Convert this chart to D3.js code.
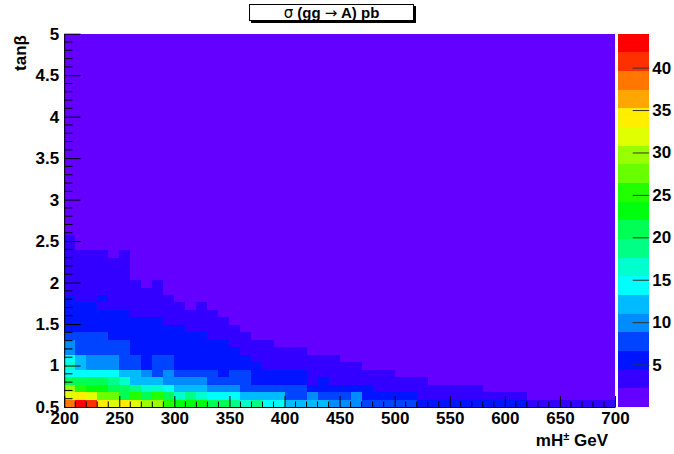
<!DOCTYPE html>
<html><head><meta charset="utf-8">
<script src="https://cdn.jsdelivr.net/npm/d3@7"></script>
<style>
body{margin:0;background:#fff}
svg{display:block}
text{font-family:"Liberation Sans",Arial,Helvetica,sans-serif;font-weight:bold;fill:#000}
</style>
</head><body><svg id="c" width="674" height="454"></svg>
<script>
// ---------------- data ----------------
const massBins = [200,210,220,230,240,250,260,270,280,290,300,310,320,330,340,350,360,370,380,390,
  400,410,420,430,440,450,460,470,480,490,500,510,520,530,540,550,560,570,580,590,
  600,610,620,630,640,650,660,670,680,690];
const massBinWidth = 10;
const tanbBins = [0.5,0.59,0.68,0.77,0.86,0.95,1.04,1.13,1.22,1.31,1.4,1.49,1.58,1.67,1.76,1.85,1.94,2.03,2.12,2.21,
  2.3,2.39,2.48,2.57,2.66,2.75,2.84,2.93,3.02,3.11,3.2,3.29,3.38,3.47,3.56,3.65,3.74,3.83,3.92,4.01,
  4.1,4.19,4.28,4.37,4.46,4.55,4.64,4.73,4.82,4.91];
const tanbBinWidth = 0.09;
const xTicks = [200,250,300,350,400,450,500,550,600,650,700];
const yTicks = [0.5,1,1.5,2,2.5,3,3.5,4,4.5,5];
const zTicks = [5,10,15,20,25,30,35,40];
const zRange = [0,44];
const nContours = 20;

// sigma(gg->A) in pb, one array per tan(beta) bin, 50 mass bins each
const sig_050 = [38.5,42.9,40.7,34.1,31.9,34.1,31.9,29.7,29.7,25.3, 23.1,23.1,23.1,20.9,20.9,18.7,16.5,18.7,14.3,14.3, 12.1,12.1,12.1,12.1,9.9,9.9,9.9,7.7,7.7,7.7, 7.7,7.7,5.5,5.5,5.5,5.5,5.5,5.5,5.5,5.5, 5.5,5.5,3.3,3.3,3.3,3.3,3.3,3.3,3.3,3.3];
const sig_059 = [31.9,34.1,31.9,27.5,27.5,20.9,25.3,20.9,25.3,20.9, 16.5,18.7,16.5,14.3,14.3,14.3,12.1,12.1,12.1,12.1, 7.7,7.7,9.9,7.7,7.7,7.7,9.9,5.5,5.5,5.5, 5.5,5.5,3.3,3.3,3.3,3.3,3.3,3.3,3.3,3.3, 3.3,3.3,1,1,1,1,1,1,1,1];
const sig_068 = [29.7,25.3,23.1,23.1,20.9,20.9,18.7,16.5,16.5,14.3, 12.1,12.1,12.1,9.9,9.9,9.9,7.7,7.7,7.7,7.7, 7.7,7.7,5.5,5.5,5.5,5.5,5.5,5.5,3.3,3.3, 3.3,3.3,3.3,3.3,3.3,3.3,3.3,3.3,1,1, 1,1,1,1,1,1,1,1,1,1];
const sig_077 = [20.9,20.9,20.9,20.9,18.7,16.5,12.1,12.1,12.1,9.9, 9.9,9.9,9.9,7.7,7.7,7.7,7.7,5.5,5.5,5.5, 5.5,5.5,3.3,5.5,3.3,3.3,3.3,3.3,3.3,3.3, 3.3,3.3,3.3,1,1,1,1,1,1,1, 1,1,1,1,1,1,1,1,1,1];
const sig_086 = [14.3,14.3,14.3,14.3,14.3,12.1,12.1,9.9,7.7,9.9, 7.7,7.7,7.7,7.7,5.5,7.7,7.7,5.5,5.5,5.5, 5.5,5.5,3.3,3.3,3.3,3.3,3.3,3.3,3.3,3.3, 1,1,1,1,1,1,1,1,1,1, 1,1,1,1,1,1,1,1,1,1];
const sig_095 = [16.5,12.1,9.9,9.9,9.9,7.7,7.7,5.5,7.7,7.7, 5.5,5.5,5.5,5.5,5.5,5.5,5.5,5.5,3.3,3.3, 3.3,3.3,3.3,3.3,3.3,3.3,3.3,1,1,1, 1,1,1,1,1,1,1,1,1,1, 1,1,1,1,1,1,1,1,1,1];
const sig_104 = [14.3,12.1,9.9,9.9,9.9,7.7,7.7,5.5,7.7,7.7, 5.5,5.5,5.5,5.5,5.5,5.5,5.5,3.3,3.3,3.3, 3.3,3.3,3.3,3.3,3.3,1,1,1,1,1, 1,1,1,1,1,1,1,1,1,1, 1,1,1,1,1,1,1,1,1,1];
const sig_113 = [9.9,7.7,7.7,7.7,7.7,7.7,5.5,5.5,5.5,5.5, 5.5,5.5,5.5,5.5,5.5,5.5,3.3,3.3,3.3,3.3, 3.3,3.3,1,1,1,1,1,1,1,1, 1,1,1,1,1,1,1,1,1,1, 1,1,1,1,1,1,1,1,1,1];
const sig_122 = [9.9,7.7,7.7,7.7,7.7,7.7,5.5,5.5,5.5,5.5, 5.5,5.5,5.5,5.5,5.5,3.3,3.3,3.3,3.3,1, 1,1,1,1,1,1,1,1,1,1, 1,1,1,1,1,1,1,1,1,1, 1,1,1,1,1,1,1,1,1,1];
const sig_131 = [7.7,7.7,7.7,7.7,5.5,5.5,5.5,5.5,5.5,5.5, 5.5,5.5,5.5,3.3,3.3,3.3,3.3,1,1,1, 1,1,1,1,1,1,1,1,1,1, 1,1,1,1,1,1,1,1,1,1, 1,1,1,1,1,1,1,1,1,1];
const sig_140 = [5.5,5.5,5.5,5.5,5.5,5.5,5.5,5.5,5.5,5.5, 5.5,3.3,3.3,3.3,3.3,3.3,1,1,1,1, 1,1,1,1,1,1,1,1,1,1, 1,1,1,1,1,1,1,1,1,1, 1,1,1,1,1,1,1,1,1,1];
const sig_149 = [5.5,5.5,5.5,5.5,5.5,5.5,5.5,5.5,5.5,3.3, 3.3,3.3,3.3,3.3,3.3,1,1,1,1,1, 1,1,1,1,1,1,1,1,1,1, 1,1,1,1,1,1,1,1,1,1, 1,1,1,1,1,1,1,1,1,1];
const sig_158 = [5.5,5.5,5.5,5.5,5.5,5.5,3.3,3.3,3.3,3.3, 3.3,3.3,3.3,3.3,1,1,1,1,1,1, 1,1,1,1,1,1,1,1,1,1, 1,1,1,1,1,1,1,1,1,1, 1,1,1,1,1,1,1,1,1,1];
const sig_167 = [5.5,5.5,5.5,3.3,3.3,3.3,3.3,3.3,3.3,3.3, 3.3,1,3.3,1,1,1,1,1,1,1, 1,1,1,1,1,1,1,1,1,1, 1,1,1,1,1,1,1,1,1,1, 1,1,1,1,1,1,1,1,1,1];
const sig_176 = [5.5,3.3,3.3,5.5,3.3,3.3,3.3,3.3,3.3,3.3, 1,1,1,1,1,1,1,1,1,1, 1,1,1,1,1,1,1,1,1,1, 1,1,1,1,1,1,1,1,1,1, 1,1,1,1,1,1,1,1,1,1];
const sig_185 = [3.3,3.3,3.3,3.3,3.3,3.3,3.3,3.3,3.3,1, 1,1,1,1,1,1,1,1,1,1, 1,1,1,1,1,1,1,1,1,1, 1,1,1,1,1,1,1,1,1,1, 1,1,1,1,1,1,1,1,1,1];
const sig_194 = [3.3,3.3,3.3,3.3,3.3,3.3,3.3,1,3.3,1, 1,1,1,1,1,1,1,1,1,1, 1,1,1,1,1,1,1,1,1,1, 1,1,1,1,1,1,1,1,1,1, 1,1,1,1,1,1,1,1,1,1];
const sig_203 = [3.3,3.3,3.3,3.3,3.3,3.3,1,1,1,1, 1,1,1,1,1,1,1,1,1,1, 1,1,1,1,1,1,1,1,1,1, 1,1,1,1,1,1,1,1,1,1, 1,1,1,1,1,1,1,1,1,1];
const sig_212 = [3.3,3.3,3.3,3.3,3.3,3.3,1,1,1,1, 1,1,1,1,1,1,1,1,1,1, 1,1,1,1,1,1,1,1,1,1, 1,1,1,1,1,1,1,1,1,1, 1,1,1,1,1,1,1,1,1,1];
const sig_221 = [3.3,3.3,3.3,3.3,3.3,3.3,1,1,1,1, 1,1,1,1,1,1,1,1,1,1, 1,1,1,1,1,1,1,1,1,1, 1,1,1,1,1,1,1,1,1,1, 1,1,1,1,1,1,1,1,1,1];
const sig_230 = [3.3,3.3,3.3,3.3,1,3.3,1,1,1,1, 1,1,1,1,1,1,1,1,1,1, 1,1,1,1,1,1,1,1,1,1, 1,1,1,1,1,1,1,1,1,1, 1,1,1,1,1,1,1,1,1,1];
const sig_239 = [3.3,1,1,1,1,1,1,1,1,1, 1,1,1,1,1,1,1,1,1,1, 1,1,1,1,1,1,1,1,1,1, 1,1,1,1,1,1,1,1,1,1, 1,1,1,1,1,1,1,1,1,1];
const sig_248 = [3.3,1,1,1,1,1,1,1,1,1, 1,1,1,1,1,1,1,1,1,1, 1,1,1,1,1,1,1,1,1,1, 1,1,1,1,1,1,1,1,1,1, 1,1,1,1,1,1,1,1,1,1];
// tan(beta) >= 2.57: uniform, lowest contour everywhere
const sig_high = [1,1,1,1,1,1,1,1,1,1, 1,1,1,1,1,1,1,1,1,1, 1,1,1,1,1,1,1,1,1,1, 1,1,1,1,1,1,1,1,1,1, 1,1,1,1,1,1,1,1,1,1];

const lowRows = [sig_050,sig_059,sig_068,sig_077,sig_086,sig_095,sig_104,sig_113,sig_122,sig_131,
  sig_140,sig_149,sig_158,sig_167,sig_176,sig_185,sig_194,sig_203,sig_212,sig_221,sig_230,sig_239,sig_248];
const rows = tanbBins.map((t,i)=> i < lowRows.length ? lowRows[i] : sig_high);

// ---------------- palette (ROOT pretty palette, 50 colours, 20 contours) ----------------
function paletteColor(j){
  if (j >= 49) return "rgb(255,0,0)";
  return d3.hsl(280 - (j+1)*5.6, 1, 0.5).formatRgb();
}
function levelColor(k){ return paletteColor(Math.floor((k+0.99)*50/nContours)); }
function zColor(v){
  let k = Math.floor((v - zRange[0])/(zRange[1]-zRange[0])*nContours);
  k = Math.max(0, Math.min(nContours-1, k));
  return levelColor(k);
}

// ---------------- layout ----------------
const svg = d3.select("#c");
const X0 = 64.2, X1 = 615, YB = 407, YT = 33.7;
const PX0 = 617.7, PX1 = 649.3;
const LABEL = "17px";
const x = d3.scaleLinear().domain([200,700]).range([X0,X1]);
const y = d3.scaleLinear().domain([0.5,5]).range([YB,YT]);
const zs = d3.scaleLinear().domain(zRange).range([YB,YT]);

// cells
const cells = [];
rows.forEach((row,i)=>row.forEach((v,j)=>cells.push({m:massBins[j], t:tanbBins[i], v})));
svg.append("g").attr("shape-rendering","crispEdges")
  .selectAll("rect").data(cells).join("rect")
  .attr("x", d=>Math.round(x(d.m)))
  .attr("width", d=>Math.round(x(d.m+massBinWidth))-Math.round(x(d.m)))
  .attr("y", d=>Math.round(y(d.t+tanbBinWidth)))
  .attr("height", d=>Math.round(y(d.t))-Math.round(y(d.t+tanbBinWidth)))
  .attr("fill", d=>zColor(d.v));

// x axis
const fmt = d=>String(d);
const gx = svg.append("g").attr("transform",`translate(0,${YB})`)
  .call(d3.axisBottom(x).tickValues(xTicks).tickSize(-11).tickSizeOuter(0).tickPadding(5).tickFormat(fmt));
const xMinor = massBins.concat([700]).filter(m=>xTicks.indexOf(m)<0);
gx.selectAll("line.minor").data(xMinor).join("line").attr("class","minor")
  .attr("x1",d=>x(d)).attr("x2",d=>x(d)).attr("y1",0).attr("y2",-5.5).attr("stroke","#000");

// y axis
const gy = svg.append("g").attr("transform",`translate(${X0},0)`)
  .call(d3.axisLeft(y).tickValues(yTicks).tickSize(-16.5).tickSizeOuter(0).tickPadding(5).tickFormat(fmt));
const yMinorVals = [];
for (let k=0;k<=45;k++){ const v = +(0.5+k*0.1).toFixed(2); if (k%5) yMinorVals.push(v); }
gy.selectAll("line.minor").data(yMinorVals).join("line").attr("class","minor")
  .attr("x1",0).attr("x2",8.3).attr("y1",d=>y(d)).attr("y2",d=>y(d)).attr("stroke","#000");

[gx,gy].forEach(g=>{
  g.attr("font-family",null).attr("font-size",null);
  g.selectAll("text").style("font-size",LABEL);
  g.select(".domain").attr("stroke","#000");
});

// palette
const dz = (zRange[1]-zRange[0])/nContours;
const levels = d3.range(nContours);
svg.append("g").attr("shape-rendering","crispEdges")
  .selectAll("rect").data(levels).join("rect")
  .attr("x",PX0).attr("width",PX1-PX0)
  .attr("y",k=>Math.round(zs(zRange[0]+(k+1)*dz)))
  .attr("height",k=>Math.round(zs(zRange[0]+k*dz))-Math.round(zs(zRange[0]+(k+1)*dz)))
  .attr("fill",k=>levelColor(k));
const gz = svg.append("g").attr("transform",`translate(${PX1},0)`)
  .call(d3.axisRight(zs).tickValues(zTicks).tickSize(-16.6).tickSizeOuter(0).tickPadding(3).tickFormat(fmt));
gz.attr("font-family",null).attr("font-size",null);
gz.select(".domain").remove();
gz.selectAll("line").attr("stroke","#333");
gz.selectAll("text").style("font-size",LABEL);

// title box
svg.append("rect").attr("x",251).attr("y",6).attr("width",165).attr("height",17).attr("fill","#000");
svg.append("rect").attr("x",249.5).attr("y",4.5).attr("width",164).attr("height",16).attr("fill","#fff").attr("stroke","#000");
const tt = svg.append("text").attr("x",331.5).attr("y",18).attr("text-anchor","middle").style("font-size","15px");
tt.append("tspan").style("font-family","DejaVu Sans").style("font-weight","normal").text("σ");
tt.append("tspan").text(" (gg ");
tt.append("tspan").style("font-family","DejaVu Sans").style("font-weight","normal").text("→");
tt.append("tspan").text(" A) pb");

// axis titles
svg.append("text").attr("transform","translate(26,35) rotate(-90)").attr("text-anchor","end")
  .style("font-size",LABEL).text("tanβ");
const xt = svg.append("text").attr("x",608).attr("y",446).attr("text-anchor","end").style("font-size",LABEL);
xt.append("tspan").text("mH");
xt.append("tspan").attr("dy",-6).style("font-size","11px").text("±");
xt.append("tspan").attr("dy",6).text(" GeV");
</script>
</body></html>
